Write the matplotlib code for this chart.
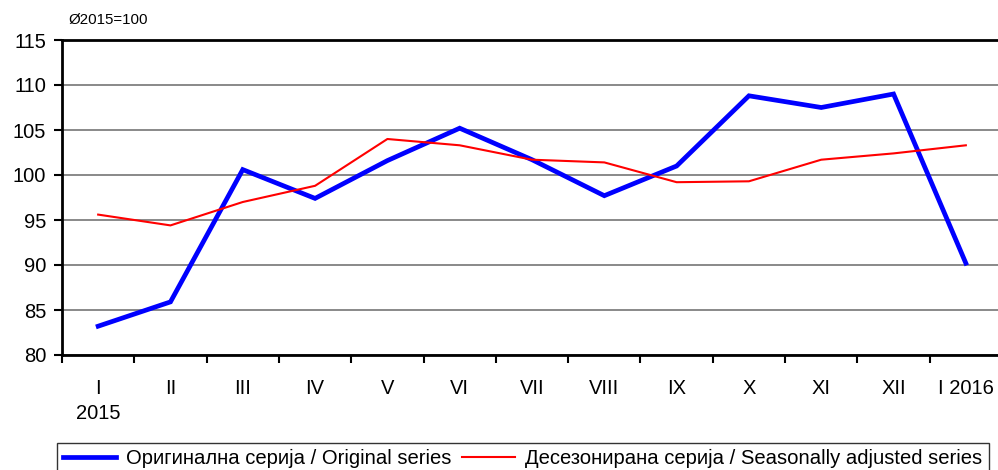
import matplotlib
matplotlib.use('Agg')
import matplotlib.pyplot as plt
import numpy as np

matplotlib.rcParams['font.family'] = ['Liberation Sans', 'DejaVu Sans']

# Months Jan 2015 - Jan 2016
months = ["I\n2015", "II", "III", "IV", "V", "VI", "VII", "VIII", "IX", "X", "XI", "XII", "I 2016"]
original = [83.2, 85.9, 100.6, 97.4, 101.6, 105.2, 101.7, 97.7, 101.0, 108.8, 107.5, 109.0, 90.2]
seas_adj = [95.6, 94.4, 97.0, 98.8, 104.0, 103.3, 101.7, 101.4, 99.2, 99.3, 101.7, 102.4, 103.3]
y_ticks = [80, 85, 90, 95, 100, 105, 110, 115]

x = np.arange(len(months))

fig = plt.figure(figsize=(9.98, 4.70), dpi=100)
ax = fig.add_axes([62 / 998, 115 / 470, 940 / 998, 315 / 470])

ax.plot(x, original, color='#0000ff', lw=3.4, solid_joinstyle='miter',
        label='Оригинална серија / Original series', zorder=3)
ax.plot(x, seas_adj, color='#ff0000', lw=1.5,
        label='Десезонирана серија / Seasonally adjusted series', zorder=4)

ax.set_xlim(-0.5, len(months) - 0.5)
ax.set_ylim(80, 115)
ax.set_yticks(y_ticks)
ax.tick_params(axis='y', labelsize=14.5, length=5.5, width=1.5, direction='out', pad=6)

# ticks between months, labels in the middle
ax.set_xticks(np.arange(-0.5, len(months), 1.0))
ax.set_xticklabels([])
ax.set_xticks(x, minor=True)
ax.set_xticklabels(months, minor=True, fontsize=14.5, linespacing=1.4, va='top')
ax.tick_params(axis='x', which='major', length=5.5, width=1.5, direction='out')
ax.tick_params(axis='x', which='minor', length=0, pad=17)

ax.grid(axis='y', color='#808080', lw=1.3)
ax.set_axisbelow(True)
for s in ['left', 'bottom', 'top', 'right']:
    ax.spines[s].set_linewidth(2)
    ax.spines[s].set_color('black')

fig.text(68 / 998, 1 - 20 / 470, 'Ø2015=100', fontsize=10.8, va='center', ha='left')

fig.legend(loc='upper left', bbox_to_anchor=(57 / 998, 1 - 443 / 470), ncol=2,
           fontsize=14.6, frameon=True, fancybox=False, edgecolor='black',
           handlelength=2.6, columnspacing=0.55, borderpad=0.3,
           handletextpad=0.5, borderaxespad=0)

fig.savefig('out.png', dpi=100)
